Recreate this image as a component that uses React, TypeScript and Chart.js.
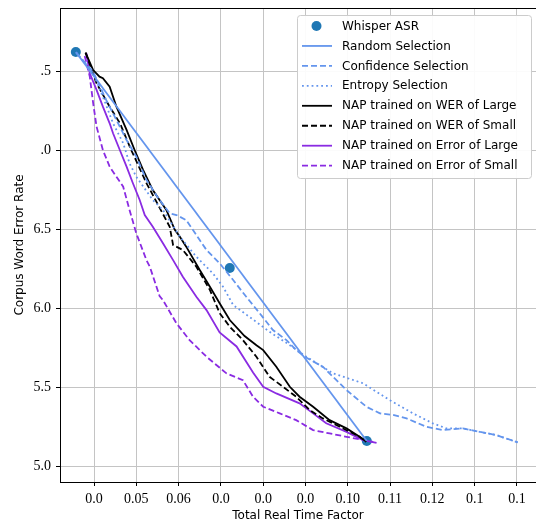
import React, { useEffect, useRef } from "react";
import { Chart, registerables } from "chart.js";
Chart.register(...registerables);

// ---- tick labels (as printed in the reference) ----
const xTickValues = [0.04, 0.05, 0.06, 0.07, 0.08, 0.09, 0.1, 0.11, 0.12, 0.13, 0.14];
const xTickLabels = ["0.0", "0.05", "0.06", "0.0", "0.0", "0.0", "0.10", "0.11", "0.12", "0.1", "0.1"];
const yTickValues = [5.0, 5.5, 6.0, 6.5, 7.0, 7.5];
const yTickLabels = ["5.0", "5.5", "6.0", "6.5", ".0", ".5"];

const legendLabels = [
  "Whisper ASR",
  "Random Selection",
  "Confidence Selection",
  "Entropy Selection",
  "NAP trained on WER of Large",
  "NAP trained on WER of Small",
  "NAP trained on Error of Large",
  "NAP trained on Error of Small",
];

// ---- series ----
const whisperX = [0.0357, 0.0721, 0.1045];
const whisperY = [7.622, 6.256, 5.162];

const randomX = [0.0357, 0.1045];
const randomY = [7.622, 5.162];

const confX = [0.0358, 0.0398, 0.0429, 0.0453, 0.0477, 0.05, 0.0524, 0.0555, 0.0579, 0.0595, 0.0618, 0.0634, 0.0666, 0.0697, 0.0729, 0.076, 0.0792, 0.0823, 0.0855, 0.0878, 0.0898, 0.0941, 0.0997, 0.1044, 0.1076, 0.1107, 0.1139, 0.1186, 0.1225, 0.1272, 0.1312, 0.1351, 0.1402];
const confY = [7.618, 7.497, 7.318, 7.192, 7.065, 6.96, 6.812, 6.686, 6.602, 6.591, 6.559, 6.496, 6.37, 6.286, 6.18, 6.074, 5.969, 5.864, 5.8, 5.737, 5.695, 5.632, 5.484, 5.379, 5.337, 5.327, 5.305, 5.252, 5.231, 5.242, 5.22, 5.2, 5.153];

const entX = [0.0358, 0.0398, 0.0421, 0.0445, 0.0469, 0.0484, 0.05, 0.0539, 0.0563, 0.0603, 0.0642, 0.0681, 0.0705, 0.0729, 0.0768, 0.0815, 0.0863, 0.0902, 0.0965, 0.1036, 0.1099, 0.1154, 0.1201, 0.1233, 0.1272, 0.1312, 0.1351, 0.1402];
const entY = [7.618, 7.487, 7.339, 7.171, 7.045, 6.918, 6.833, 6.686, 6.623, 6.454, 6.327, 6.222, 6.138, 6.022, 5.946, 5.853, 5.768, 5.695, 5.59, 5.527, 5.421, 5.337, 5.274, 5.242, 5.242, 5.22, 5.2, 5.153];

const werLargeX = [0.038, 0.0398, 0.0413, 0.0421, 0.0437, 0.0453, 0.0477, 0.0496, 0.0516, 0.0539, 0.0571, 0.0591, 0.0603, 0.0618, 0.065, 0.0674, 0.0697, 0.0721, 0.0756, 0.0784, 0.08, 0.0831, 0.0863, 0.0886, 0.0918, 0.0957, 0.0997, 0.1028, 0.1044];
const werLargeY = [7.618, 7.508, 7.466, 7.456, 7.403, 7.276, 7.129, 7.002, 6.876, 6.749, 6.623, 6.498, 6.454, 6.391, 6.243, 6.138, 6.033, 5.927, 5.826, 5.768, 5.737, 5.632, 5.505, 5.442, 5.379, 5.294, 5.242, 5.189, 5.157];

const werSmallX = [0.038, 0.0406, 0.0437, 0.0461, 0.0488, 0.0524, 0.0579, 0.0587, 0.061, 0.0642, 0.0674, 0.0697, 0.0721, 0.0752, 0.0784, 0.0815, 0.0847, 0.0878, 0.091, 0.0941, 0.0981, 0.1028, 0.1044];
const werSmallY = [7.618, 7.424, 7.276, 7.173, 7.002, 6.793, 6.517, 6.401, 6.37, 6.264, 6.117, 5.971, 5.885, 5.8, 5.695, 5.568, 5.505, 5.442, 5.358, 5.305, 5.252, 5.189, 5.157];

const errLargeX = [0.0382, 0.039, 0.0406, 0.0421, 0.0437, 0.0445, 0.0461, 0.0477, 0.0492, 0.0508, 0.052, 0.0539, 0.0563, 0.0587, 0.061, 0.0642, 0.0666, 0.0697, 0.0737, 0.0776, 0.08, 0.0831, 0.0886, 0.0918, 0.0949, 0.0997, 0.1036, 0.1068];
const errLargeY = [7.614, 7.487, 7.382, 7.276, 7.171, 7.108, 7.002, 6.897, 6.792, 6.686, 6.591, 6.517, 6.412, 6.306, 6.201, 6.074, 5.99, 5.849, 5.76, 5.595, 5.505, 5.463, 5.4, 5.337, 5.274, 5.22, 5.168, 5.151];

const errSmallX = [0.0378, 0.039, 0.0398, 0.0406, 0.0421, 0.0437, 0.0453, 0.0469, 0.0484, 0.05, 0.0524, 0.0532, 0.0555, 0.0563, 0.0595, 0.0626, 0.0666, 0.0713, 0.0752, 0.0776, 0.08, 0.0839, 0.0878, 0.0918, 0.0957, 0.0997, 0.1036, 0.106];
const errSmallY = [7.597, 7.466, 7.298, 7.15, 7.002, 6.897, 6.833, 6.77, 6.623, 6.475, 6.306, 6.264, 6.079, 6.053, 5.906, 5.8, 5.695, 5.59, 5.547, 5.442, 5.379, 5.337, 5.294, 5.231, 5.21, 5.189, 5.168, 5.157];

const toPts = (xs: number[], ys: number[]) => xs.map((x, i) => ({ x, y: ys[i] }));

const BLUE = "#6495ed";
const PURPLE = "#8a2be2";
const DOT = "#1f77b4";
const SANS = "'DejaVu Sans', sans-serif";
const SERIF = "'Liberation Serif', serif";

const topSpine = {
  id: "topSpine",
  afterDatasetsDraw(chart: any) {
    const { ctx, chartArea } = chart;
    ctx.save();
    ctx.strokeStyle = "#000";
    ctx.lineWidth = 1;
    ctx.beginPath();
    ctx.moveTo(chartArea.left, chartArea.top + 0.5);
    ctx.lineTo(chartArea.right, chartArea.top + 0.5);
    ctx.stroke();
    ctx.restore();
  },
};

const legendPlugin = {
  id: "customLegend",
  afterDraw(chart: any) {
    const ctx = chart.ctx;
    const x0 = 297, y0 = 15, w = 234, h = 163;
    ctx.save();
    ctx.beginPath();
    ctx.roundRect(x0 + 0.5, y0 + 0.5, w, h, 3);
    ctx.fillStyle = "rgba(255,255,255,0.92)";
    ctx.fill();
    ctx.strokeStyle = "#cccccc";
    ctx.lineWidth = 1;
    ctx.stroke();
    ctx.font = `12px ${SANS}`;
    ctx.textBaseline = "middle";
    ctx.textAlign = "left";
    chart.data.datasets.forEach((ds: any, i: number) => {
      const cy = 26 + i * 19.95;
      if (!ds.showLine) {
        ctx.beginPath();
        ctx.arc(316.5, cy, 5, 0, Math.PI * 2);
        ctx.fillStyle = ds.backgroundColor;
        ctx.fill();
      } else {
        ctx.beginPath();
        ctx.setLineDash(ds.borderDash || []);
        ctx.strokeStyle = ds.borderColor;
        ctx.lineWidth = ds.borderWidth;
        ctx.moveTo(302, cy);
        ctx.lineTo(332, cy);
        ctx.stroke();
        ctx.setLineDash([]);
      }
      ctx.fillStyle = "#000";
      ctx.fillText(legendLabels[i], 342, cy + 0.5);
    });
    ctx.restore();
  },
};

export default function App() {
  const ref = useRef<HTMLCanvasElement | null>(null);
  useEffect(() => {
    if (!ref.current) return;
    const lineDs = (data: any, color: string, dash: number[]) => ({
      type: "scatter",
      data,
      showLine: true,
      borderColor: color,
      backgroundColor: color,
      borderWidth: 1.8,
      borderDash: dash,
      pointRadius: 0,
      tension: 0,
      order: 0,
    });
    const chart = new Chart(ref.current, {
      type: "scatter",
      data: {
        datasets: [
          {
            data: toPts(whisperX, whisperY),
            showLine: false,
            backgroundColor: DOT,
            borderColor: DOT,
            pointRadius: 5,
            pointBorderWidth: 0,
            order: 1,
          } as any,
          lineDs(toPts(randomX, randomY), BLUE, []),
          lineDs(toPts(confX, confY), BLUE, [6, 3]),
          lineDs(toPts(entX, entY), BLUE, [1.8, 3]),
          lineDs(toPts(werLargeX, werLargeY), "#000000", []),
          lineDs(toPts(werSmallX, werSmallY), "#000000", [6, 3]),
          lineDs(toPts(errLargeX, errLargeY), PURPLE, []),
          lineDs(toPts(errSmallX, errSmallY), PURPLE, [6, 3]),
        ],
      },
      options: {
        responsive: false,
        animation: false,
        layout: { autoPadding: false, padding: { top: 8, left: 0, right: 0, bottom: 0 } },
        plugins: { legend: { display: false }, tooltip: { enabled: false } },
        scales: {
          x: {
            type: "linear",
            min: 0.03196,
            max: 0.1445,
            afterBuildTicks: (s: any) => {
              s.ticks = xTickValues.map((v) => ({ value: v }));
            },
            afterFit: (s: any) => {
              s.height = 43;
              s.paddingLeft = 0;
              s.paddingRight = 0;
              s.paddingTop = 0;
              s.paddingBottom = 0;
            },
            ticks: {
              autoSkip: false,
              maxRotation: 0,
              padding: 5,
              color: "#000",
              font: { family: SERIF, size: 14 },
              callback: (_v: any, i: number) => xTickLabels[i],
            },
            grid: { color: "#c4c4c4", lineWidth: 1, tickLength: 4, tickColor: "#000", tickWidth: 1 },
            border: { color: "#000", width: 1 },
            title: {
              display: true,
              text: "Total Real Time Factor",
              color: "#000",
              font: { family: SANS, size: 12 },
              padding: { top: 0, bottom: 2 },
            },
          },
          y: {
            type: "linear",
            min: 4.903,
            max: 7.9,
            afterBuildTicks: (s: any) => {
              s.ticks = yTickValues.map((v) => ({ value: v }));
            },
            afterFit: (s: any) => {
              s.width = 60;
              s.paddingLeft = 0;
              s.paddingRight = 0;
              s.paddingTop = 0;
              s.paddingBottom = 0;
            },
            ticks: {
              padding: 5,
              color: "#000",
              font: { family: SERIF, size: 14 },
              callback: (_v: any, i: number) => yTickLabels[i],
            },
            grid: { color: "#c4c4c4", lineWidth: 1, tickLength: 4, tickColor: "#000", tickWidth: 1 },
            border: { color: "#000", width: 1 },
            title: {
              display: true,
              text: "Corpus Word Error Rate",
              color: "#000",
              font: { family: SANS, size: 12 },
              padding: { top: 13, bottom: 0 },
            },
          },
        },
      } as any,
      plugins: [topSpine, legendPlugin],
    });
    return () => chart.destroy();
  }, []);
  return (
    <div style={{ position: "absolute", left: 0, top: 0, width: 536, height: 525, background: "#fff" }}>
      <canvas ref={ref} width={536} height={525} style={{ width: 536, height: 525, display: "block" }} />
    </div>
  );
}
